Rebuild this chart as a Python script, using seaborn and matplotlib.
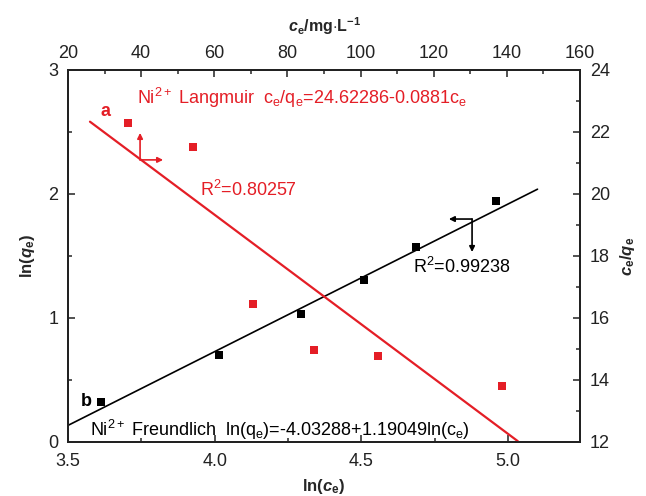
import numpy as np
import pandas as pd
import matplotlib
matplotlib.use("Agg")
import matplotlib.pyplot as plt
import seaborn as sns
from matplotlib.ticker import MultipleLocator

# Freundlich (bottom / left axes)
ln_ce = [3.612, 4.013, 4.295, 4.509, 4.686, 4.958]
ln_qe = [0.323, 0.702, 1.032, 1.306, 1.573, 1.944]
freund_b0, freund_b1 = -4.03288, 1.19049
freund_x = [3.5, 5.1]

# Langmuir (top / right axes)
ce = [36.4, 54.2, 70.6, 87.3, 104.8, 138.7]
ce_qe = [22.29, 21.52, 16.45, 14.97, 14.77, 13.81]
lang_b0, lang_b1 = 24.62286, -0.0881
lang_x = [26.0, 143.0]

rouge = '#e41e26'

sns.set_theme(style="white")
plt.rcParams['font.family'] = ['Liberation Sans', 'DejaVu Sans']
plt.rcParams['mathtext.fontset'] = 'custom'
plt.rcParams['mathtext.rm'] = 'Liberation Sans'
plt.rcParams['mathtext.it'] = 'Liberation Sans:italic'
plt.rcParams['mathtext.bf'] = 'Liberation Sans:bold'
plt.rcParams['mathtext.bfit'] = 'Liberation Sans:italic:bold'

fig = plt.figure(figsize=(6.46, 4.96), dpi=100)
ax = fig.add_axes([0.1053, 0.1089, 0.7926, 0.75])
ax2 = ax.twinx()
ax3 = ax2.twiny()

df_f = pd.DataFrame({'x': ln_ce, 'y': ln_qe})
df_l = pd.DataFrame({'x': ce, 'y': ce_qe})

fx = np.array(freund_x)
sns.lineplot(x=fx, y=freund_b0 + freund_b1 * fx, ax=ax, color='black', lw=1.2)
sns.scatterplot(data=df_f, x='x', y='y', ax=ax, marker='s', s=38, color='black',
                linewidth=0, zorder=3)

lx = np.array(lang_x)
sns.lineplot(x=lx, y=lang_b0 + lang_b1 * lx, ax=ax3, color=rouge, lw=1.6)
sns.scatterplot(data=df_l, x='x', y='y', ax=ax3, marker='s', s=38, color=rouge,
                linewidth=0, zorder=3)

ax.set_xlim(3.5, 5.245)
ax.set_ylim(0, 3)
ax2.set_ylim(12, 24)
ax3.set_xlim(20, 160)
ax3.set_ylim(12, 24)

ax.xaxis.set_major_locator(MultipleLocator(0.5))
ax.xaxis.set_minor_locator(MultipleLocator(0.25))
ax.yaxis.set_major_locator(MultipleLocator(1))
ax.yaxis.set_minor_locator(MultipleLocator(0.5))
ax2.yaxis.set_major_locator(MultipleLocator(2))
ax2.yaxis.set_minor_locator(MultipleLocator(1))
ax3.xaxis.set_major_locator(MultipleLocator(20))
ax3.xaxis.set_minor_locator(MultipleLocator(10))
ax.xaxis.set_major_formatter(matplotlib.ticker.FormatStrFormatter('%.1f'))

for a in (ax, ax2, ax3):
    a.tick_params(which='major', direction='in', length=5, width=1.1, labelsize=13,
                  colors='#222222')
    a.tick_params(which='minor', direction='in', length=3, width=1.1)
    for sp in a.spines.values():
        sp.set_linewidth(1.3)
        sp.set_color('#222222')
ax.tick_params(axis='both', which='both', bottom=True, left=True, top=False, right=False)
ax.tick_params(axis='x', which='major', pad=8)
ax.tick_params(axis='y', which='major', pad=7)
ax2.tick_params(axis='y', which='both', right=True)
ax2.tick_params(axis='y', which='major', pad=7)
ax3.tick_params(axis='x', which='both', top=True, bottom=False)
ax3.tick_params(axis='x', which='major', pad=6)
ax3.tick_params(axis='y', which='both', left=False, right=False, labelleft=False, labelright=False)

ax.set_xlabel(r'$\mathbf{ln(}\mathbfit{c}_\mathbf{e}\mathbf{)}$', fontsize=12, labelpad=5)
ax.set_ylabel(r'$\mathbf{ln(}\mathbfit{q}_\mathbf{e}\mathbf{)}$', fontsize=12, labelpad=8)
ax2.set_ylabel(r'$\mathbfit{c}_\mathbf{e}\mathbf{/}\mathbfit{q}_\mathbf{e}$', fontsize=12, labelpad=6)
ax3.set_xlabel(r'$\mathbfit{c}_\mathbf{e}\mathbf{/mg{\cdot}L}^\mathbf{-1}$', fontsize=11.5, labelpad=9)
ax3.set_ylabel('')

# annotations
ax3.text(28.75, 22.65, 'a', color=rouge, fontsize=13, fontweight='bold', va='center', ha='left')
ax.text(3.545, 0.323, 'b', color='black', fontsize=13, fontweight='bold', va='center', ha='left')
ax3.text(38.9, 23.1,
         r'Ni$^{2+}$ Langmuir  c$_\mathrm{e}$/q$_\mathrm{e}$=24.62286-0.0881c$_\mathrm{e}$',
         color=rouge, fontsize=13, va='center', ha='left')
ax3.text(56.1, 20.13, r'R$^2$=0.80257', color=rouge, fontsize=13, va='center', ha='left')
ax.text(4.676, 1.411, r'R$^2$=0.99238', color='black', fontsize=13, va='center', ha='left')
ax.text(3.575, 0.097,
        r'Ni$^{2+}$ Freundlich  ln(q$_\mathrm{e}$)=-4.03288+1.19049ln(c$_\mathrm{e}$)',
        color='black', fontsize=13, va='center', ha='left')

# axis-pointer arrows
fleche_r = dict(arrowstyle='-|>', color=rouge, lw=1.2, mutation_scale=8, shrinkA=0, shrinkB=0)
ax3.annotate('', xy=(39.7, 21.97), xytext=(39.7, 21.10), arrowprops=fleche_r)
ax3.annotate('', xy=(46.0, 21.10), xytext=(39.7, 21.10), arrowprops=fleche_r)
fleche_n = dict(arrowstyle='-|>', color='black', lw=1.2, mutation_scale=8, shrinkA=0, shrinkB=0)
ax.annotate('', xy=(4.798, 1.798), xytext=(4.877, 1.798), arrowprops=fleche_n)
ax.annotate('', xy=(4.877, 1.532), xytext=(4.877, 1.798), arrowprops=fleche_n)

fig.savefig('out.png', dpi=100, facecolor='white')
